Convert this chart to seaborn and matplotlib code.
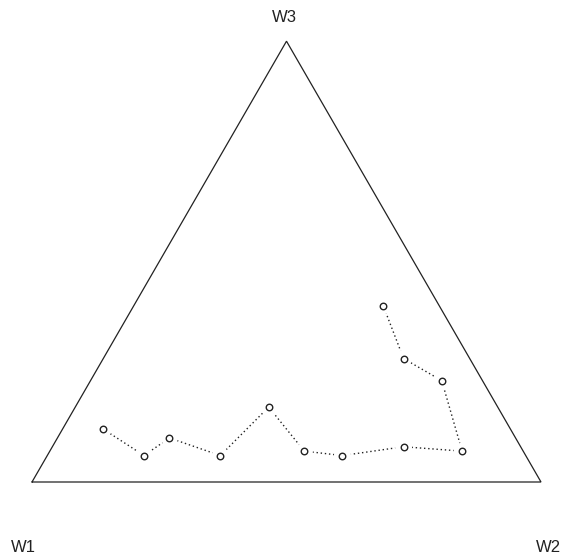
import numpy as np
import pandas as pd
import matplotlib
matplotlib.use("Agg")
import matplotlib.pyplot as plt
import seaborn as sns

# Three-part compositions, in sequence order
w1 = [0.80, 0.75, 0.68, 0.60, 0.45, 0.43, 0.36, 0.23, 0.12, 0.08, 0.13, 0.11]
w2 = [0.08, 0.19, 0.22, 0.34, 0.38, 0.50, 0.58, 0.69, 0.81, 0.69, 0.59, 0.49]
w3 = [0.12, 0.06, 0.10, 0.06, 0.17, 0.07, 0.06, 0.08, 0.07, 0.23, 0.28, 0.40]
corner_labels = ["W1", "W2", "W3"]

sns.set_style("white")
plt.rcParams["font.family"] = ["Liberation Sans", "DejaVu Sans"]

comp = np.array([w1, w2, w3], dtype=float).T
comp = comp / comp.sum(axis=1, keepdims=True)
h = np.sqrt(3) / 2
df = pd.DataFrame({
    "x": comp[:, 1] + comp[:, 2] / 2,
    "y": comp[:, 2] * h,
    "order": np.arange(len(comp)),
})

W, H = 561, 558
fig = plt.figure(figsize=(W / 100, H / 100), dpi=100)
ax = fig.add_axes([0, 0, 1, 1])
scale = 509.0
x0, y0 = 32.0, 76.0
ax.set_xlim(-x0 / scale, (W - x0) / scale)
ax.set_ylim(-y0 / scale, (H - y0) / scale)
ax.set_axis_off()

# Simplex outline
ax.plot([0, 1, 0.5, 0], [0, 0, h, 0], color="#222222", lw=0.9, solid_joinstyle="miter")

# Path through the compositions (points + lines, with a gap around each point)
sns.lineplot(data=df, x="x", y="y", sort=False, estimator=None, ax=ax,
             color="#222222", lw=1.0, linestyle=(0, (1.0, 2.0)), legend=False, zorder=2)
sns.scatterplot(data=df, x="x", y="y", ax=ax, s=150, marker="o",
                color="white", edgecolor="none", linewidth=0, zorder=2.5,
                legend=False)
sns.scatterplot(data=df, x="x", y="y", ax=ax, s=22, marker="o",
                facecolor="white", edgecolor="#222222", linewidth=1.0, zorder=3,
                legend=False)

fs = 12
fig.text(284 / W, 1 - 18 / H, corner_labels[2], ha="center", va="center", fontsize=fs, color="#222222")
fig.text(23 / W, 1 - 547.5 / H, corner_labels[0], ha="center", va="center", fontsize=fs, color="#222222")
fig.text(548 / W, 1 - 547.5 / H, corner_labels[1], ha="center", va="center", fontsize=fs, color="#222222")

fig.savefig("out.png", dpi=100, facecolor="white")
